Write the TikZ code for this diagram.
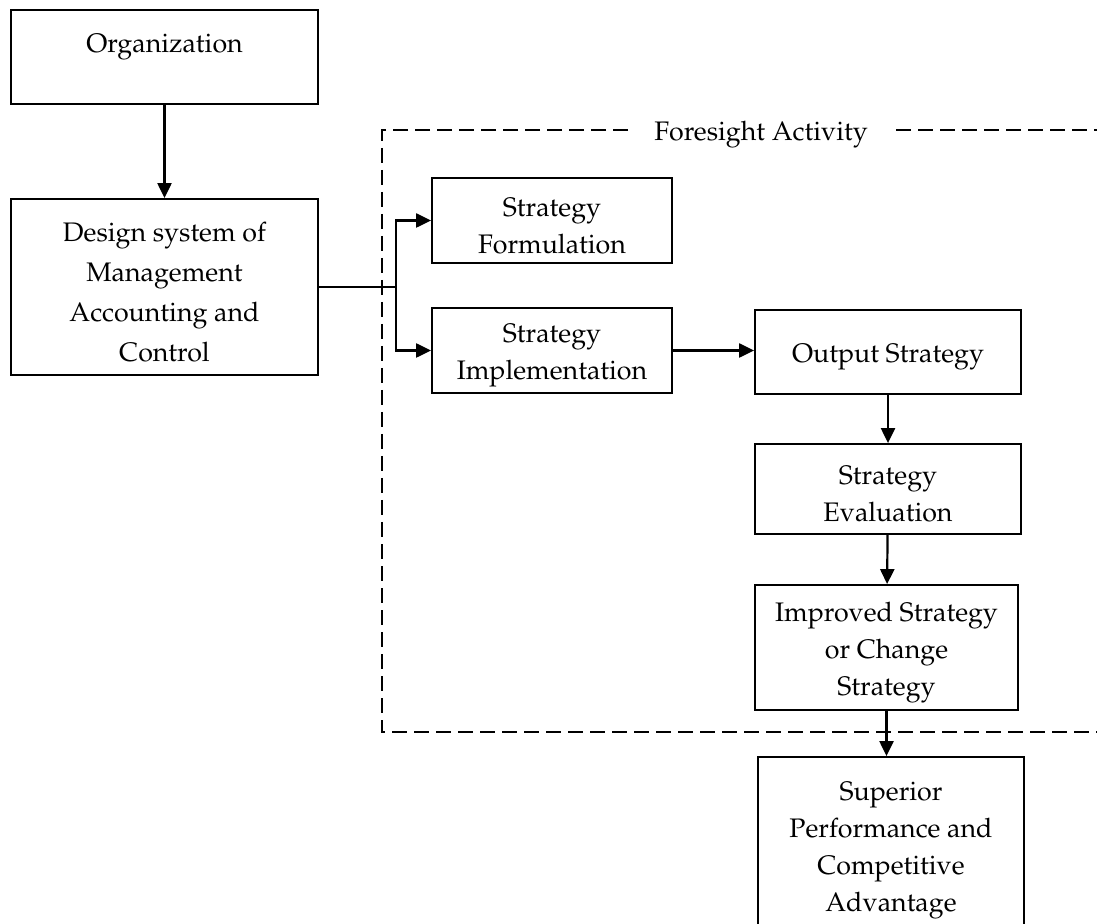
\documentclass[tikz,border=0pt]{standalone}
\usepackage[T1]{fontenc}
\usepackage{mathpazo}
\usetikzlibrary{arrows.meta,positioning}

\tikzset{
  box/.style={draw, line width=0.9pt, align=center, inner sep=2pt,
    font=\fontsize{13.4}{18.5}\selectfont},
  link/.style={line width=1.1pt, -{Triangle[length=7.5pt,width=7pt]}},
  frame/.style={line width=0.8pt, dash pattern=on 7.5pt off 3.5pt}
}

\begin{document}
\begin{tikzpicture}[x=0.5pt,y=-0.5pt]

\newcommand\lift{\rule{0pt}{14.3pt}}

\useasboundingbox (0,0) rectangle (1097,924);

  %% left column
  \node[box, minimum width=153.5pt, minimum height=47pt] (org) at (164.5,57)
    {\lift Organization\\~};
  \node[box, minimum width=153.5pt, minimum height=88pt,
    font=\fontsize{13.4}{20}\selectfont] (design) at (164.5,287)
    {\lift Design system of\\Management\\Accounting and\\Control};

  %% inside foresight
  \node[box, minimum width=120pt, minimum height=42.5pt] (form) at (552,220.5)
    {\lift Strategy\\Formulation};
  \node[box, minimum width=120pt, minimum height=42.5pt] (impl) at (552,350.5)
    {\lift Strategy\\Implementation};
  \node[box, minimum width=133pt, minimum height=42pt] (out) at (888,352)
    {\lift Output Strategy};
  \node[box, minimum width=133pt, minimum height=45pt] (eval) at (888,489)
    {\lift Strategy\\Evaluation};
  \node[box, minimum width=131.5pt, minimum height=62.5pt] (impr) at (886.5,647.5)
    {\lift Improved Strategy\\or Change\\Strategy};

  %% result
  \node[box, minimum width=133pt, minimum height=88pt] (sup) at (891,845)
    {\lift Superior\\Performance and\\Competitive\\Advantage};

  %% foresight frame
  \node[font=\fontsize{13.4}{15}\selectfont] (fa) at (761,135) {Foresight Activity};
  \draw[frame] (628,130) -- (382,130) -- (382,732) -- (1100,732);
  \draw[frame] (896,130) -- (1100,130);

  %% connectors
  \coordinate (split) at (396,287);
  \draw[link] (org) -- (design);
  \draw[line width=0.7pt] (design.east) -- (split);
  \draw[link] (split) |- (form.west);
  \draw[link] (split) |- (impl.west);
  \draw[link] (impl.east) -- (impl.east -| out.west);
  \draw[link] (out) -- (eval);
  \draw[link] (eval) -- (impr);
  \draw[link] (impr.south) -- (impr.south |- sup.north);

\end{tikzpicture}
\end{document}
